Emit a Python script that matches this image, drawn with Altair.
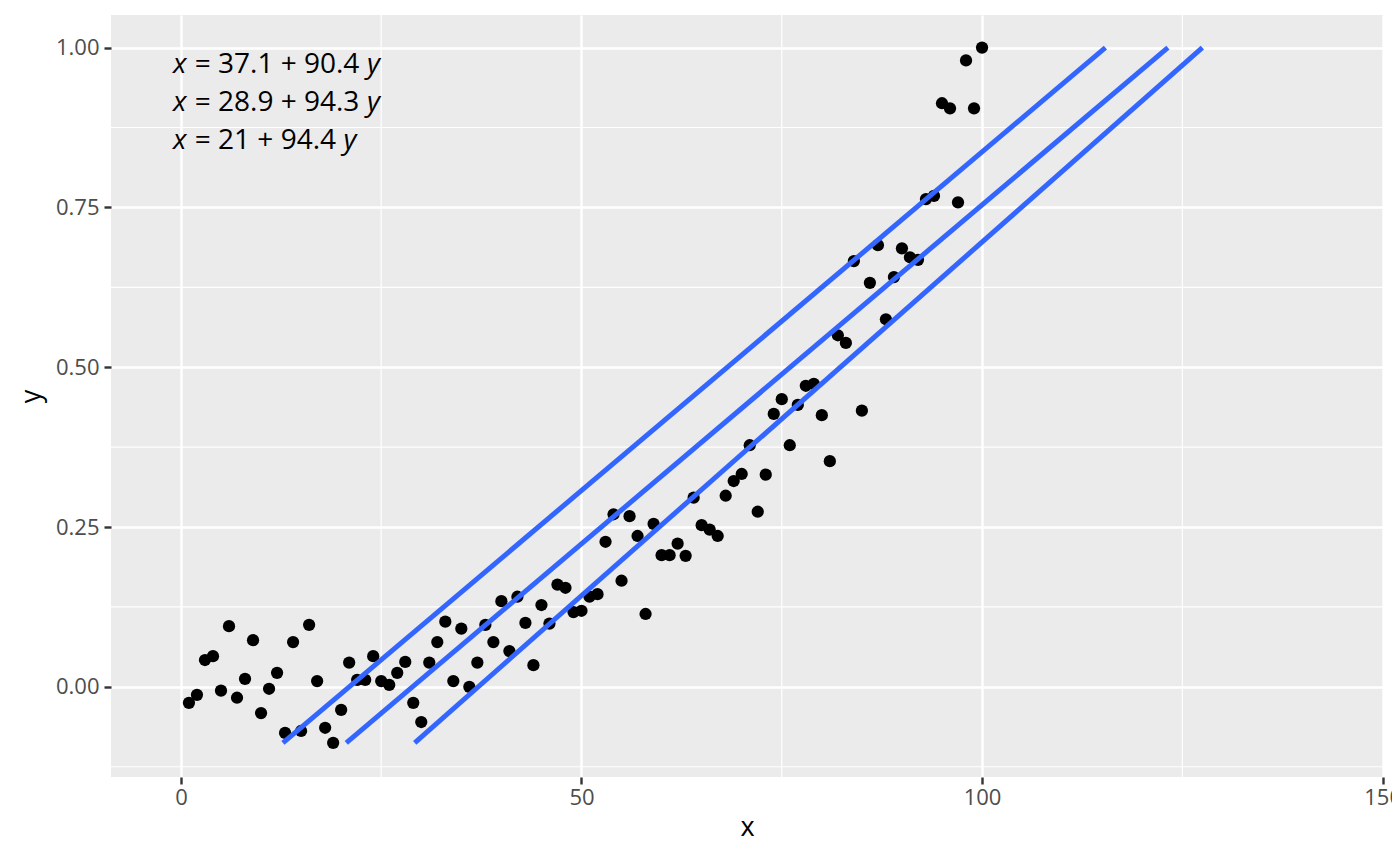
import altair as alt
import pandas as pd

# ---- data ----
x_vals = list(range(1, 101))
y_vals = [
    -0.025, -0.0125, 0.042, 0.048, -0.006, 0.095, -0.017, 0.0125, 0.073, -0.041,
    -0.003, 0.022, -0.072, 0.070, -0.069, 0.097, 0.009, -0.064, -0.0876, -0.036,
    0.038, 0.011, 0.011, 0.048, 0.009, 0.003, 0.022, 0.039, -0.025, -0.055,
    0.038, 0.070, 0.102, 0.009, 0.091, 0.000, 0.038, 0.097, 0.070, 0.134,
    0.056, 0.141, 0.100, 0.034, 0.128, 0.099, 0.160, 0.155, 0.117, 0.119,
    0.141, 0.145, 0.227, 0.270, 0.166, 0.267, 0.236, 0.114, 0.255, 0.206,
    0.206, 0.224, 0.205, 0.296, 0.253, 0.246, 0.236, 0.299, 0.322, 0.333,
    0.378, 0.274, 0.332, 0.427, 0.450, 0.378, 0.441, 0.471, 0.474, 0.425,
    0.353, 0.550, 0.538, 0.666, 0.432, 0.632, 0.691, 0.575, 0.641, 0.686,
    0.672, 0.668, 0.763, 0.768, 0.913, 0.905, 0.758, 0.980, 0.905, 1.000,
]
intercepts = [37.1, 28.9, 21.0]
slopes = [90.4, 94.3, 94.4]
eq_middle = ["= 37.1 + 90.4", "= 28.9 + 94.3", "= 21 + 94.4"]

x_major = [0, 50, 100, 150]
x_minor = [25, 75, 125]
y_major = [0.0, 0.25, 0.5, 0.75, 1.0]
y_minor = [-0.125, 0.125, 0.375, 0.625, 0.875]

# ---- derived tables ----
pts = pd.DataFrame({"x": x_vals, "y": y_vals})
ymin, ymax = min(y_vals), max(y_vals)
lines = pd.DataFrame(
    [
        {"g": i, "y": yy, "x": a + b * yy}
        for i, (a, b) in enumerate(zip(intercepts, slopes))
        for yy in (ymin, ymax)
    ]
)

FONT = "Open Sans"
FS = 28
lab_x = -1.0
lab_y = [0.973, 0.913, 0.854]
labels = pd.DataFrame({"x": [lab_x] * 3, "y": lab_y, "mid": eq_middle})

# approximate advance widths (em) to place the italic y after each equation
W = {"0": .572, "1": .572, "2": .572, "3": .572, "4": .572, "5": .572, "6": .572,
     "7": .572, "8": .572, "9": .572, ".": .268, " ": .26, "=": .572, "+": .572}
def width(s):
    return sum(W.get(c, .55) for c in s) * FS

x_dx = 0.78 * FS

xs = alt.Scale(domain=[-8.73, 150.05], nice=False, zero=False)
ys = alt.Scale(domain=[-0.141, 1.051], nice=False, zero=False)

xaxis = alt.Axis(values=x_major, title="x", format="d", grid=True,
                 gridColor="white", gridWidth=2.4, domain=False,
                 tickColor="#333333", tickWidth=2.4, tickSize=7,
                 labelColor="#4D4D4D", labelFont=FONT, labelFontSize=22,
                 labelPadding=3, labelFlush=False, labelOverlap=False,
                 titleFont=FONT, titleFontSize=27,
                 titleFontWeight="normal", titleColor="black", titlePadding=6)
yaxis = alt.Axis(values=y_major, title="y", format=".2f", grid=True,
                 gridColor="white", gridWidth=2.4, domain=False,
                 tickColor="#333333", tickWidth=2.4, tickSize=7,
                 labelColor="#4D4D4D", labelFont=FONT, labelFontSize=22,
                 labelPadding=5, titleFont=FONT, titleFontSize=27,
                 titleFontWeight="normal", titleColor="black", titlePadding=10)

vminor = alt.Chart(pd.DataFrame({"v": x_minor})).mark_rule(
    color="white", strokeWidth=1.2).encode(x=alt.X("v:Q", scale=xs, axis=xaxis))
hminor = alt.Chart(pd.DataFrame({"v": y_minor})).mark_rule(
    color="white", strokeWidth=1.2).encode(y=alt.Y("v:Q", scale=ys, axis=yaxis))

pl = alt.Chart(pts).mark_circle(size=150, color="black", opacity=1).encode(
    x=alt.X("x:Q", scale=xs, axis=xaxis), y=alt.Y("y:Q", scale=ys, axis=yaxis))

ln = alt.Chart(lines).mark_line(color="#3366FF", strokeWidth=5, strokeCap="butt").encode(
    x=alt.X("x:Q", scale=xs), y=alt.Y("y:Q", scale=ys), detail="g:N")

tx = alt.Chart(labels).mark_text(align="left", baseline="middle", font=FONT,
                                 fontSize=FS, fontStyle="italic", color="black").encode(
    x=alt.X("x:Q", scale=xs), y=alt.Y("y:Q", scale=ys), text=alt.value("x"))
tm = alt.Chart(labels).mark_text(align="left", baseline="middle", font=FONT,
                                 fontSize=FS, color="black", dx=x_dx).encode(
    x=alt.X("x:Q", scale=xs), y=alt.Y("y:Q", scale=ys), text="mid:N")

ty_layers = []
for i, m in enumerate(eq_middle):
    sub = labels.iloc[[i]]
    ty_layers.append(
        alt.Chart(sub).mark_text(align="left", baseline="middle", font=FONT,
                                 fontSize=FS, fontStyle="italic", color="black",
                                 dx=x_dx + width(m) + 0.26 * FS).encode(
            x=alt.X("x:Q", scale=xs), y=alt.Y("y:Q", scale=ys), text=alt.value("y"))
    )

chart = alt.layer(vminor, hminor, pl, ln, tx, tm, *ty_layers).properties(
    width=1272, height=762,
    autosize=alt.AutoSizeParams(type="none"),
    padding={"left": 103, "top": 7, "right": 9, "bottom": 81},
    background="white",
).configure_view(fill="#EBEBEB", stroke=None)

chart.save("out.html", embed_options={"renderer": "svg", "actions": False})
